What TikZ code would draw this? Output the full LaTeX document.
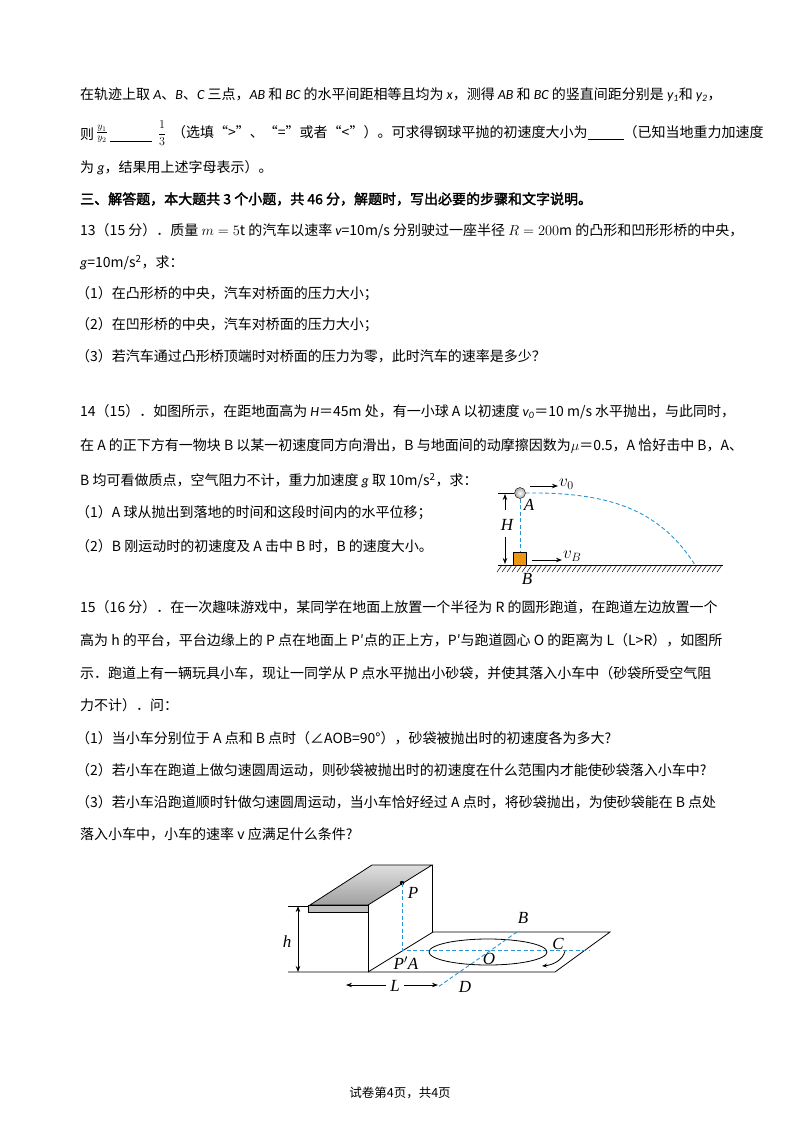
\documentclass[tikz,border=0pt]{standalone}
\usepackage{fontspec}
\setmainfont{Noto Sans CJK SC}
\newfontfamily\cjb[FakeBold=2]{Noto Sans CJK SC}
\newfontfamily\tms{Liberation Serif}
\newfontfamily\crl{Carlito}
\newcommand{\vi}[1]{{\crl\itshape #1}}
\usetikzlibrary{arrows.meta}
\begin{document}
\begin{tikzpicture}[x=1pt,y=-1pt,
  txt/.style={anchor=west,inner sep=0,font=\fontsize{14}{14}\selectfont},
  lab/.style={inner sep=0,font=\fontsize{17}{17}\tms\itshape},
  ln/.style={line width=0.8pt},
  dsh/.style={dash pattern=on 4pt off 2.5pt,draw={rgb,255:red,40;green,150;blue,210},line width=0.9pt},
  arr/.style={-{Stealth[length=6pt]},line width=0.8pt}]
\useasboundingbox[fill=white] (0,0) rectangle (800,1132);
% text lines
\node[txt] (l1) at (80,95) {在轨迹上取 \vi{A}、\vi{B}、\vi{C} 三点，\vi{AB} 和 \vi{BC} 的水平间距相等且均为 \vi{x}，测得 \vi{AB} 和 \vi{BC} 的竖直间距分别是 \vi{y}\textsubscript{\vi{1}}和 \vi{y}\textsubscript{\vi{2}}，};
\node[txt] (l2a) at (80,134) {则};
\node[inner sep=0,font=\fontsize{14}{14}\selectfont] (fr1) at (102,134) {$\frac{y_1}{y_2}$};
\draw[ln] (110,141) -- (152,141);
\node[inner sep=0,font=\fontsize{13}{13}\selectfont] (fr2) at (162,133) {$\displaystyle\frac{1}{3}$};
\node[txt] (l2b) at (172,133) {（选填“>”、“=”或者“<”）。可求得钢球平抛的初速度大小为\rule[-2pt]{36pt}{0.8pt}（已知当地重力加速度};
\node[txt] (l3) at (80,168) {为 \vi{g}，结果用上述字母表示）。};
\node[txt,font=\fontsize{14}{14}\cjb] (l4) at (80,199) {三、解答题，本大题共 3 个小题，共 46 分，解题时，写出必要的步骤和文字说明。};
\node[txt] (l5) at (80,231) {13（15 分）．质量 $m=5\mathrm{t}$ 的汽车以速率 \vi{v}=10m/s 分别驶过一座半径 $R=200\mathrm{m}$ 的凸形和凹形形桥的中央，};
\node[txt] (l6) at (80,263) {\vi{g}=10m/s\textsuperscript{2}，求：};
\node[txt] (l7) at (76,294) {（1）在凸形桥的中央，汽车对桥面的压力大小；};
\node[txt] (l8) at (76,325) {（2）在凹形桥的中央，汽车对桥面的压力大小；};
\node[txt] (l9) at (76,356) {（3）若汽车通过凸形桥顶端时对桥面的压力为零，此时汽车的速率是多少？};
\node[txt] (l10) at (80,412) {14（15）．如图所示，在距地面高为 \vi{H}＝45m 处，有一小球 A 以初速度 \vi{v}\textsubscript{\vi{0}}＝10 m/s 水平抛出，与此同时，};
\node[txt] (l11) at (80,446) {在 A 的正下方有一物块 B 以某一初速度同方向滑出，B 与地面间的动摩擦因数为$\mu$＝0.5，A 恰好击中 B，A、};
\node[txt] (l12) at (80,481) {B 均可看做质点，空气阻力不计，重力加速度 \vi{g} 取 10m/s\textsuperscript{2}，求：};
\node[txt] (l13) at (76,513) {（1）A 球从抛出到落地的时间和这段时间内的水平位移；};
\node[txt] (l14) at (76,546) {（2）B 刚运动时的初速度及 A 击中 B 时，B 的速度大小。};
\node[txt] (l15) at (80,607) {15（16 分）．在一次趣味游戏中，某同学在地面上放置一个半径为 R 的圆形跑道，在跑道左边放置一个};
\node[txt] (l16) at (80,640) {高为 h 的平台，平台边缘上的 P 点在地面上 P′点的正上方，P′与跑道圆心 O 的距离为 L（L>R），如图所};
\node[txt] (l17) at (80,673) {示．跑道上有一辆玩具小车，现让一同学从 P 点水平抛出小砂袋，并使其落入小车中（砂袋所受空气阻};
\node[txt] (l18) at (80,705) {力不计）．问：};
\node[txt] (l19) at (76,738) {（1）当小车分别位于 A 点和 B 点时（∠AOB=90°），砂袋被抛出时的初速度各为多大?};
\node[txt] (l20) at (76,770) {（2）若小车在跑道上做匀速圆周运动，则砂袋被抛出时的初速度在什么范围内才能使砂袋落入小车中?};
\node[txt] (l21) at (76,802) {（3）若小车沿跑道顺时针做匀速圆周运动，当小车恰好经过 A 点时，将砂袋抛出，为使砂袋能在 B 点处};
\node[txt] (l22) at (80,834) {落入小车中，小车的速率 v 应满足什么条件?};
\node[inner sep=0,font=\fontsize{12.5}{12.5}\selectfont] (foot) at (400,1093) {试卷第4页，共4页};
% ---- figure 14 ----
\coordinate (g1) at (498,565); \coordinate (g2) at (723,565);
\draw[ln] (g1) -- (g2);
\foreach \x in {502,507,...,723} \draw[line width=0.5pt] (\x,565) -- (\x-5,572);
\node[circle,draw,inner sep=0,minimum size=11pt,shade,inner color=white,outer color=gray!70] (ball) at (520,493) {};
\draw[ln] (498,493) -- (ball.west);
\node[draw,fill={rgb,255:red,235;green,150;blue,20},inner sep=0,minimum size=13pt] (blk) at (520,558.5) {};
\coordinate (land) at (695,565);
\draw[dsh] (ball.south) -- (blk.north);
\draw[dsh] (ball.east) .. controls (610,492) and (660,510) .. (land);
\draw[arr] (505,510) -- (505,494);
\draw[arr] (505,537) -- (505,564);
\node[lab] (Hl) at (507,525) {H};
\node[lab] (Al) at (529,505) {A};
\node[lab] (Bl) at (527,579) {B};
\coordinate (v0a) at (530,486); \coordinate (v0b) at (558,486);
\draw[arr] (v0a) -- (v0b);
\node[lab,anchor=west] (v0l) at (559,484) {$v_0$};
\coordinate (vba) at (532,560); \coordinate (vbb) at (562,560);
\draw[arr] (vba) -- (vbb);
\node[lab,anchor=west] (vbl) at (563,556) {$v_B$};
% ---- figure 15 ----
\draw[ln] (288,972) -- (555,972) -- (610,932) -- (433,932);
\draw[ln] (433,932) -- (368,972);
\draw[ln] (288,906) -- (310,906);
\draw[ln,top color=gray!25,bottom color=gray!75] (310,905) -- (372,865) -- (432,865) -- (368,905) -- cycle;
\draw[ln,fill=gray!50] (308,905) -- (368,905) -- (368,912) -- (308,912) -- cycle;
\draw[ln] (368,912) -- (368,972);
\draw[ln] (432,865) -- (432,932);
\coordinate (Pp) at (402,950);
\fill (402,883) circle (2.2pt) coordinate (P);
\draw[dsh] (P) -- (Pp) -- (590,950);
\draw[ln] (488,952) ellipse (59 and 13);
\coordinate (Bp) at (517,932); \coordinate (Dp) at (438,987);
\draw[dsh] (Bp) -- (Dp);
\draw[ln,-{Stealth[length=5pt]}] (565,951) .. controls (563,960) and (553,965) .. (542,966);
\draw[ln,{Stealth[length=6pt]}-{Stealth[length=6pt]}] (298,906) -- (298,972);
\draw[ln,-{Stealth[length=6pt]}] (386,985) -- (346,985);
\draw[ln,-{Stealth[length=6pt]}] (404,985) -- (438,985);
\node[lab] (hl) at (287,942) {h};
\node[lab] (Ll) at (395,986) {L};
\node[lab] (Pl) at (413,893) {P};
\node[lab] (PAl) at (406,963) {P$'$A};
\node[lab] (Ol) at (489,959) {O};
\node[lab] (Bl2) at (523,918) {B};
\node[lab] (Cl) at (558,944) {C};
\node[lab] (Dl) at (465,987) {D};
\end{tikzpicture}
\end{document}
